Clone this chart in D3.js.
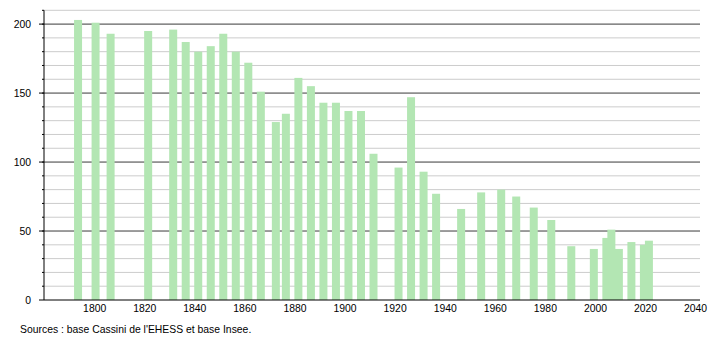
<!DOCTYPE html>
<html>
<head>
<meta charset="utf-8">
<script src="https://cdn.jsdelivr.net/npm/d3@7"></script>
<style>
  body { margin: 0; background: #fff; }
  svg { display: block; font-family: "Liberation Sans", Arial, sans-serif; }
</style>
</head>
<body>
<div id="chart"></div>
<script>
// Census years and population
var years = [1793, 1800, 1806, 1821, 1831, 1836, 1841, 1846, 1851, 1856, 1861, 1866,
  1872, 1876, 1881, 1886, 1891, 1896, 1901, 1906, 1911, 1921, 1926, 1931, 1936,
  1946, 1954, 1962, 1968, 1975, 1982, 1990, 1999, 2004, 2006, 2009, 2014, 2019, 2021];
var population = [203, 201, 193, 195, 196, 187, 180, 184, 193, 180, 172, 151,
  129, 135, 161, 155, 143, 143, 137, 137, 106, 96, 147, 93, 77,
  66, 78, 80, 75, 67, 58, 39, 37, 45, 51, 37, 42, 40, 43];
var xTicks = [1800, 1820, 1840, 1860, 1880, 1900, 1920, 1940, 1960, 1980, 2000, 2020, 2040];
var yMajor = [0, 50, 100, 150, 200];
var yMinor = d3.range(10, 211, 10);
var source = "Sources : base Cassini de l'EHESS et base Insee.";

(function() {
  var width = 710, height = 340;
  var left = 44, right = 700, top = 10.3, bottom = 300;
  var fontSize = 10.4;

  var x = d3.scaleLinear().domain([1780, 2042]).range([left, right]);
  var y = d3.scaleLinear().domain([0, 210]).range([bottom, top]);

  var svg = d3.select("#chart").append("svg")
      .attr("width", width)
      .attr("height", height);

  // minor grid (every 10)
  svg.append("g").selectAll("line")
      .data(yMinor.filter(function(d) { return d % 50 !== 0; }))
    .enter().append("line")
      .attr("x1", left).attr("x2", right)
      .attr("y1", function(d) { return y(d); })
      .attr("y2", function(d) { return y(d); })
      .attr("stroke", "#cccccc")
      .attr("stroke-width", 1);

  // major grid (every 50)
  svg.append("g").selectAll("line")
      .data(yMajor.filter(function(d) { return d > 0; }))
    .enter().append("line")
      .attr("x1", left).attr("x2", right)
      .attr("y1", function(d) { return y(d); })
      .attr("y2", function(d) { return y(d); })
      .attr("stroke", "#3a3a3a")
      .attr("stroke-width", 1);

  // bars
  var data = years.map(function(yr, i) { return { year: yr, value: population[i] }; });
  var barW = 8;
  svg.append("g").selectAll("rect")
      .data(data)
    .enter().append("rect")
      .attr("x", function(d) { return x(d.year) - 2.5; })
      .attr("y", function(d) { return y(d.value); })
      .attr("width", barW)
      .attr("height", function(d) { return bottom - y(d.value); })
      .attr("fill", "rgb(179,230,179)");

  // y axis with major and minor ticks
  var yAxis = svg.append("g");
  yAxis.append("line")
      .attr("x1", left).attr("x2", left)
      .attr("y1", top).attr("y2", bottom)
      .attr("stroke", "#000");
  yAxis.selectAll("line.minor")
      .data(yMinor)
    .enter().append("line")
      .attr("class", "minor")
      .attr("x1", left - 2).attr("x2", left)
      .attr("y1", function(d) { return y(d); })
      .attr("y2", function(d) { return y(d); })
      .attr("stroke", "#000");
  yAxis.selectAll("line.major")
      .data(yMajor)
    .enter().append("line")
      .attr("class", "major")
      .attr("x1", left - 5).attr("x2", left)
      .attr("y1", function(d) { return y(d); })
      .attr("y2", function(d) { return y(d); })
      .attr("stroke", "#000");
  yAxis.selectAll("text")
      .data(yMajor)
    .enter().append("text")
      .attr("x", 31)
      .attr("y", function(d) { return y(d); })
      .attr("dy", "0.35em")
      .attr("text-anchor", "end")
      .attr("font-size", fontSize)
      .text(function(d) { return d; });

  // x axis
  svg.append("line")
      .attr("x1", left).attr("x2", right)
      .attr("y1", bottom).attr("y2", bottom)
      .attr("stroke", "#000");
  svg.append("g").selectAll("text")
      .data(xTicks)
    .enter().append("text")
      .attr("x", function(d) { return x(d) + 0.6; })
      .attr("y", 312)
      .attr("text-anchor", "middle")
      .attr("font-size", fontSize)
      .text(function(d) { return d; });

  svg.append("text")
      .attr("x", 20)
      .attr("y", 332.5)
      .attr("font-size", fontSize)
      .text(source);
})();
</script>
</body>
</html>
